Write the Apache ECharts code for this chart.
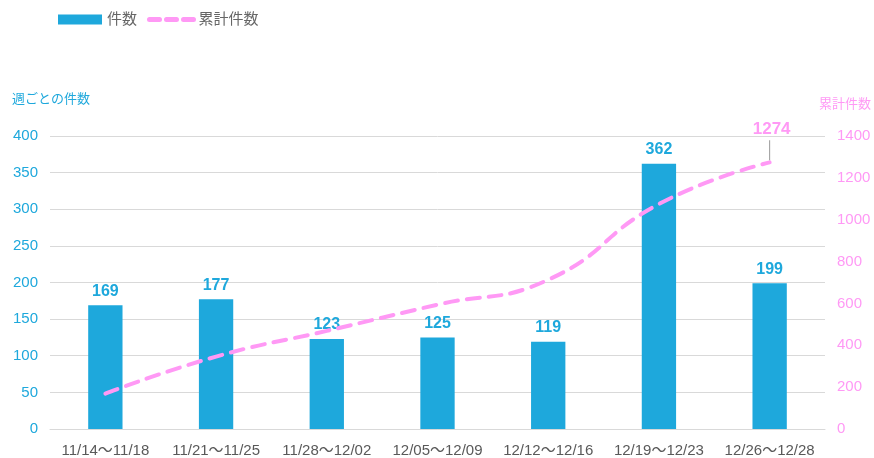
<!DOCTYPE html>
<html>
<head>
<meta charset="utf-8">
<script src="https://cdn.jsdelivr.net/npm/echarts@6/dist/echarts.min.js"></script>
<style>
  html, body { margin: 0; padding: 0; background: #fff; }
  #main { width: 874px; height: 458px; }
</style>
</head>
<body>
<div id="main"></div>
<script>
var weeks = ['11/14～11/18', '11/21～11/25', '11/28～12/02', '12/05～12/09', '12/12～12/16', '12/19～12/23', '12/26～12/28'];
var weeklyCounts = [169, 177, 123, 125, 119, 362, 199];
var cumulativeCounts = [169, 346, 469, 594, 713, 1075, 1274];

var blue = '#1ea8dc';
var pink = '#ff99f5';
var font = '"Liberation Sans", "Noto Sans CJK JP", sans-serif';

var myChart = echarts.init(document.getElementById('main'));

var option = {
    textStyle: { fontFamily: font },
    legend: {
        left: 53, top: 7,
        itemWidth: 44, itemHeight: 10, itemGap: 10,
        textStyle: { color: '#666', fontSize: 15, fontFamily: font },
        data: [
            { name: '件数', icon: 'rect' },
            { name: '累計件数', itemStyle: { opacity: 0 }, lineStyle: { width: 5, type: [10, 7], cap: 'round' } }
        ]
    },
    grid: { left: 50, right: 48, top: 136, bottom: 29 },
    xAxis: {
        type: 'category',
        data: weeks,
        axisTick: { show: false },
        axisLine: { lineStyle: { color: '#d9d9d9' } },
        axisLabel: { color: '#595959', fontSize: 15, margin: 14, interval: 0 }
    },
    yAxis: [{
        type: 'value',
        name: '週ごとの件数',
        nameGap: 30,
        nameTextStyle: { color: blue, fontSize: 13, align: 'left', padding: [0, 0, 0, -38] },
        min: 0, max: 400, interval: 50,
        axisLabel: { color: blue, fontSize: 15, margin: 12 },
        splitLine: { lineStyle: { color: '#d9d9d9' } }
    }, {
        type: 'value',
        name: '累計件数',
        nameGap: 25,
        nameTextStyle: { color: pink, fontSize: 13, align: 'right', padding: [0, -46, 0, 0] },
        min: 0, max: 1400, interval: 200,
        axisLabel: {
            color: pink, fontSize: 15, margin: 12,
            formatter: function (v) { return String(v); }
        },
        splitLine: { show: false }
    }],
    series: [{
        name: '件数',
        type: 'bar',
        data: weeklyCounts,
        barWidth: '31%',
        itemStyle: { color: blue },
        label: {
            show: true, position: 'top', distance: 6,
            color: blue, fontSize: 16, fontWeight: 'bold'
        }
    }, {
        name: '累計件数',
        type: 'line',
        yAxisIndex: 1,
        smooth: true,
        showSymbol: true,
        symbol: 'circle',
        symbolSize: 0,
        data: cumulativeCounts.map(function (v, i) {
            if (i === cumulativeCounts.length - 1) {
                return {
                    value: v,
                    label: {
                        show: true, position: 'top', distance: 2,
                        formatter: '{v|{c}}\n{l|}',
                        rich: {
                            v: { color: pink, fontSize: 17, fontWeight: 'bold', lineHeight: 22, padding: [0, 0, 0, 4] },
                            l: { width: 1, height: 20, backgroundColor: '#999', align: 'center' }
                        }
                    }
                };
            }
            return v;
        }),
        lineStyle: { color: pink, width: 4, type: [13, 9], cap: 'round' },
        itemStyle: { color: pink },
        z: 3
    }]
};
myChart.setOption(option);
</script>
</body>
</html>
